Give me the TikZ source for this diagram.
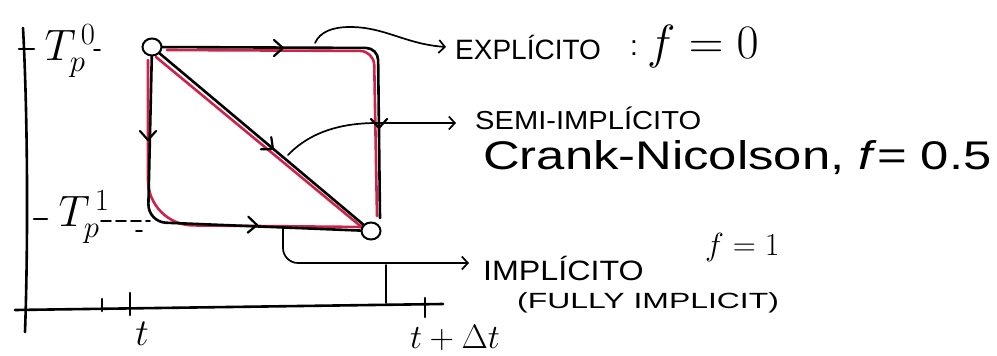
\documentclass[tikz,border=0pt]{standalone}
\usepackage{fix-cm}
\usepackage{graphicx}
\usepackage{fontspec}
\setmainfont{Liberation Sans}
\usetikzlibrary{arrows.meta,shapes.geometric}
\definecolor{hred}{RGB}{205,35,75}
\newcommand{\hwtext}[3]{\scalebox{#1}[1]{\fontsize{#2}{#2}\selectfont #3}}
\tikzset{
  ink/.style={line width=2.6pt, line cap=round, line join=round, black},
  redink/.style={line width=2.6pt, hred, line cap=round, line join=round},
  thinink/.style={line width=1.7pt, black, line cap=round, line join=round},
  pics/vhead/.style={code={\draw[line width=2.2pt, black, line cap=round, line join=round] (-9pt,-8pt) -- (0pt,0pt) -- (-9pt,8pt);}},
  ptcircle/.style={ellipse, draw, line width=2pt, fill=white, minimum width=19pt, minimum height=17pt, inner sep=0pt},
  lbl/.style={inner sep=0pt, anchor=west},
  conarrow/.style={thinink, -{Straight Barb[length=6pt,width=13pt,line width=1.7pt]}}
}
\begin{document}
\begin{tikzpicture}[x=1pt,y=-1pt]
\useasboundingbox (0,0) rectangle (997,356);
% axes
\coordinate (yb) at (25,332); \coordinate (yt) at (23,28);
\draw[ink] (yb) .. controls (28,250) and (28,120) .. (yt);
\coordinate (xl) at (15,310); \coordinate (xr) at (443,304);
\draw[ink] (xl) -- (xr);
% axis ticks
\coordinate (ty0a) at (19,49); \coordinate (ty0b) at (34,49);
\draw[ink] (ty0a) -- (ty0b);
\coordinate (ty1a) at (34,219); \coordinate (ty1b) at (47,219);
\draw[ink] (ty1a) -- (ty1b);
\coordinate (tx1a) at (102,299); \coordinate (tx1b) at (102,311);
\draw[ink] (tx1a) -- (tx1b);
\coordinate (tx2a) at (130,293); \coordinate (tx2b) at (130,315);
\draw[ink] (tx2a) -- (tx2b);
\coordinate (tx3a) at (425,298); \coordinate (tx3b) at (425,317);
\draw[ink] (tx3a) -- (tx3b);
\coordinate (vl1) at (386,265); \coordinate (vl2) at (386,303);
\draw[thinink] (vl1) -- (vl2);
% axis labels
\node[inner sep=0pt] (T0) at (70,51) {\fontsize{44}{44}\selectfont $T_p^{\,0}$};
\node[inner sep=0pt] (T1) at (84,217) {\fontsize{44}{44}\selectfont $T_p^{\,1}$};
\node[inner sep=0pt] (tl) at (142,334) {\fontsize{38}{38}\selectfont $t$};
\node[inner sep=0pt] (tdl) at (455,338) {\fontsize{34}{34}\selectfont $t+\Delta t$};
\coordinate (d0a) at (94,50); \coordinate (d0b) at (100,50);
\draw[thinink] (d0a) -- (d0b);
\coordinate (d1a) at (101,221); \coordinate (d1b) at (150,221);
\draw[thinink, dash pattern=on 10pt off 5pt] (d1a) -- (d1b);
\coordinate (d2a) at (136,231); \coordinate (d2b) at (142,231);
\draw[thinink] (d2a) -- (d2b);
% points
\coordinate (Ap) at (152,47); \coordinate (Bp) at (371,231);
% red strokes (beneath)
\coordinate (r1) at (167,50); \coordinate (r2) at (374,51); \coordinate (r3) at (377,216);
\draw[redink, rounded corners=14pt] (r1) -- (r2) -- (r3);
\coordinate (r4) at (148,60); \coordinate (r5) at (148,225); \coordinate (r6) at (364,227);
\draw[redink, rounded corners=45pt] (r4) -- (r5) -- (r6);
\coordinate (r7) at (156,57); \coordinate (r8) at (364,229);
\draw[redink] (r7) -- (r8);
% black strokes
\coordinate (c1) at (378,48); \coordinate (c2) at (380,218);
\draw[ink, rounded corners=12pt] (Ap) -- (c1) -- (c2);
\coordinate (c3) at (148,222);
\draw[ink, rounded corners=18pt] (Ap) -- (c3) -- (Bp);
\draw[ink] (Ap) -- (Bp);
% arrowheads on the paths
\coordinate (h1) at (283,48); \coordinate (h2) at (379,128);
\coordinate (h3) at (148,140); \coordinate (h4) at (257,225);
\coordinate (h5) at (273,149);
\pic at (h1) {vhead};
\pic[rotate=-90] at (h2) {vhead};
\pic[rotate=-90] at (h3) {vhead};
\pic[rotate=-2] at (h4) {vhead};
\pic[rotate=-40] at (h5) {vhead};
\node[ptcircle] (A) at (Ap) {};
\node[ptcircle] (B) at (Bp) {};
% texts
\node[lbl] (expl) at (455,47) {\hwtext{1.0}{28}{EXPLÍCITO}};
\node[lbl] (colon) at (630,48) {\hwtext{1.0}{28}{:}};
\node[lbl] (f0) at (647,46) {\fontsize{48}{48}\selectfont $f=0$};
\node[lbl] (semi) at (475,118) {\hwtext{1.12}{26}{SEMI-IMPLÍCITO}};
\node[lbl] (cn) at (483,158) {\hwtext{1.27}{40}{Crank-Nicolson, \textit{f}= 0.5}};
\node[lbl] (f1) at (705,247) {\fontsize{32}{32}\selectfont $f=1$};
\node[lbl] (impl) at (483,268) {\hwtext{1.15}{28}{IMPLÍCITO}};
\node[lbl] (fully) at (517,303) {\hwtext{1.45}{22}{(FULLY IMPLICIT)}};
% connectors
\coordinate (e0) at (315,43); \coordinate (e1) at (350,27);
\draw[conarrow] (e0) .. controls (320,32) and (332,27) .. (e1) .. controls (385,27) and (405,44) .. ([xshift=-9pt]expl.west);
\coordinate (s0) at (288,155); \coordinate (s1) at (377,123);
\draw[conarrow] (s0) .. controls (312,130) and (345,123) .. (s1) -- ([xshift=-19pt]semi.west |- s1);
\coordinate (i0) at (283,227); \coordinate (i1) at (283,263);
\draw[conarrow, rounded corners=15pt] (i0) -- (i1) -- ([xshift=-14pt]impl.west |- i1);
\end{tikzpicture}
\end{document}
